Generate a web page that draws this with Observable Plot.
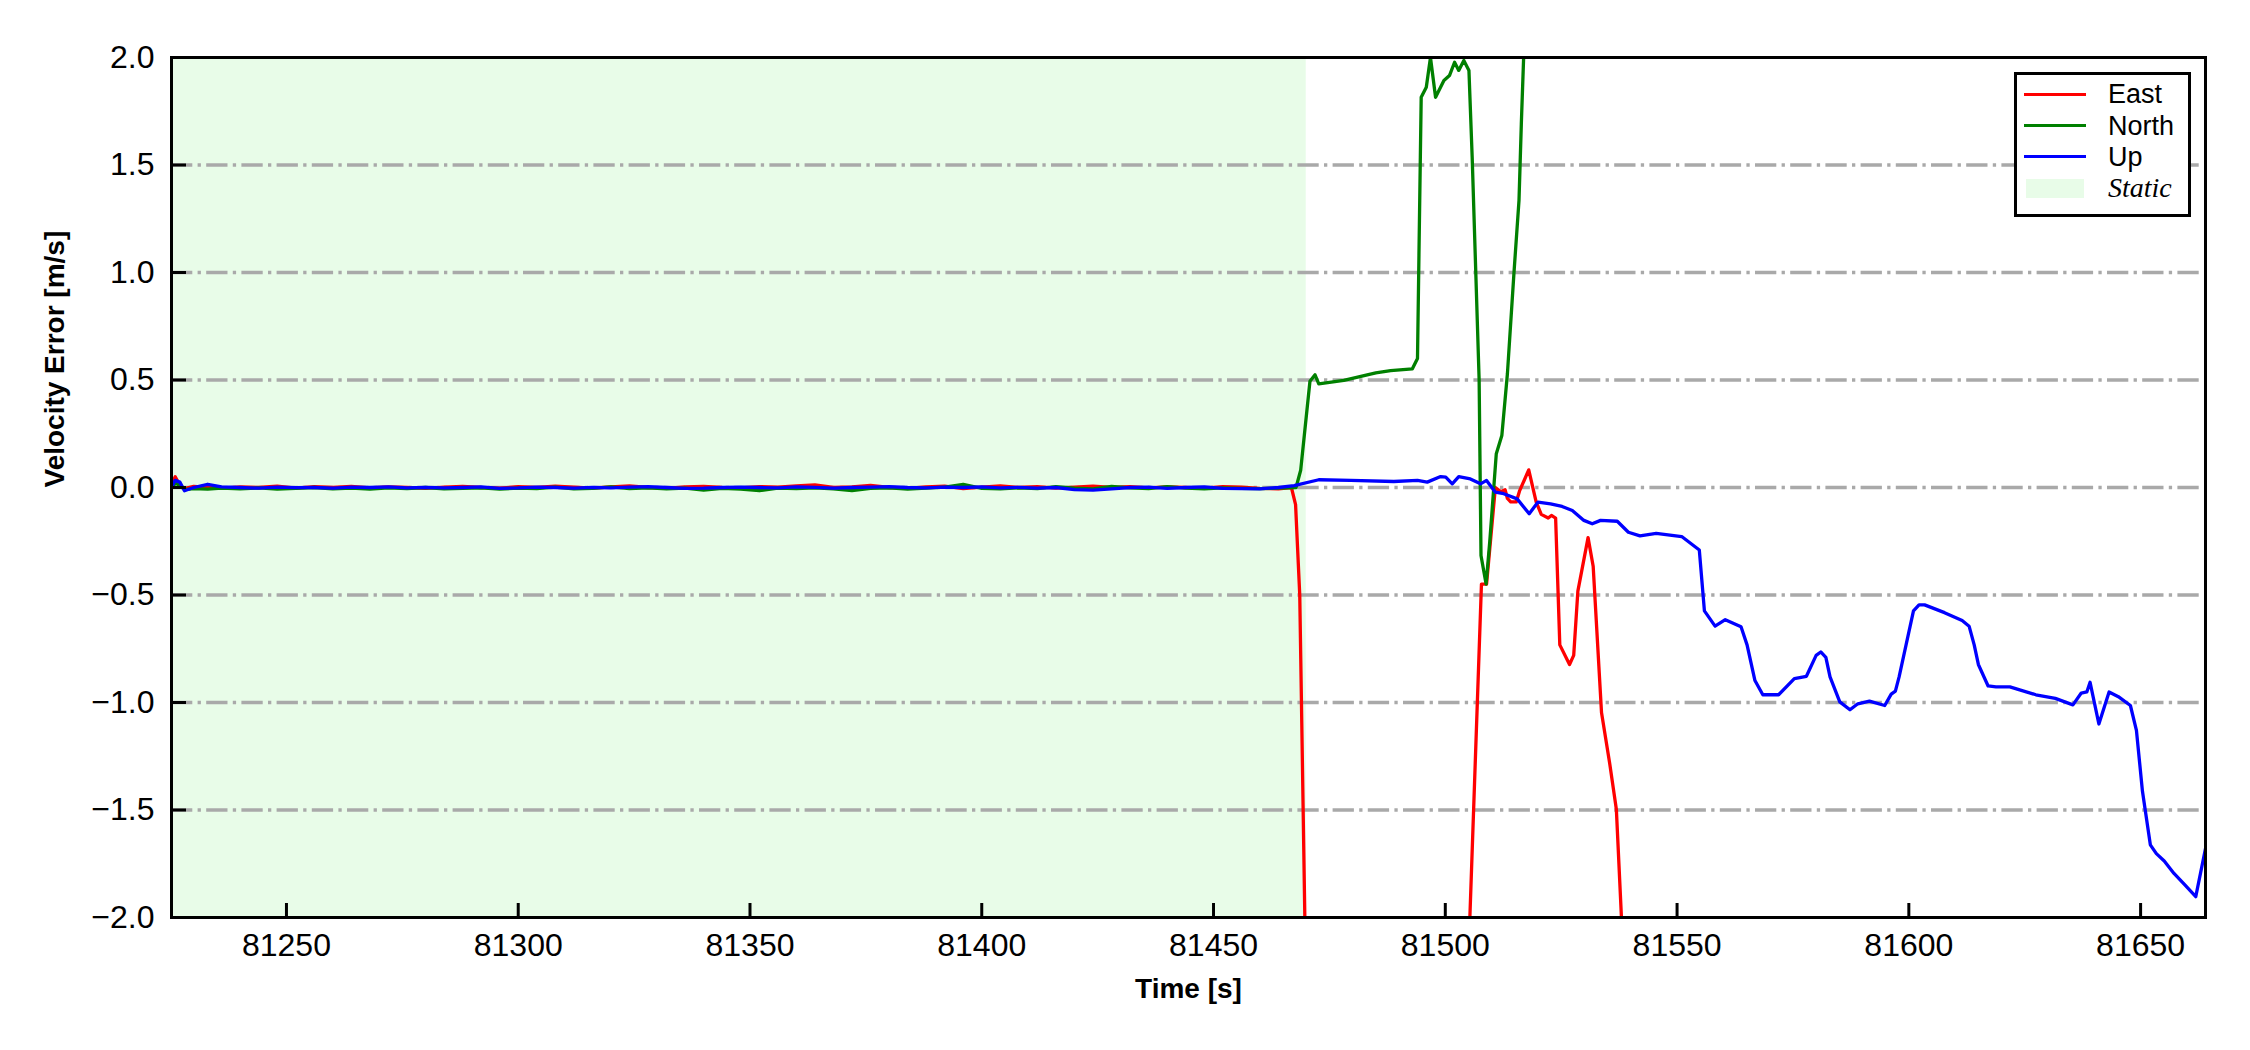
<!DOCTYPE html>
<html>
<head>
<meta charset="utf-8">
<script src="https://cdn.jsdelivr.net/npm/d3@7"></script>
<script src="https://cdn.jsdelivr.net/npm/@observablehq/plot@0.6"></script>
<style>
  html, body { margin: 0; padding: 0; background: #fff; }
  #wrap { position: relative; width: 2250px; height: 1050px; font-family: "Liberation Sans", Arial, sans-serif; }
  #wrap svg { position: absolute; left: 0; top: 0; }
  #legend { position: absolute; left: 2014px; top: 72px; width: 177px; height: 145px; border: 3px solid #000; box-sizing: border-box; background: #fff; }
  .lrow { position: absolute; left: 0; height: 30px; width: 170px; }
  .lsym { position: absolute; left: 7px; width: 62px; height: 3.5px; top: 13.25px; }
  .lpatch { position: absolute; left: 9px; width: 58px; height: 19px; top: 5.5px; }
  .ltxt { position: absolute; left: 91px; top: 0; height: 30px; line-height: 30px; font-size: 27px; color: #000; white-space: nowrap; }
  .ltxt.it { font-family: "Liberation Serif", "Times New Roman", serif; font-style: italic; font-size: 28px; }
</style>
</head>
<body>
<div id="wrap"></div>
<script>
// ---------- axes / layout values ----------
const xDomain = [81225.2, 81664];
const yDomain = [-2, 2];
const xTicks = [81250, 81300, 81350, 81400, 81450, 81500, 81550, 81600, 81650];
const yTicks = [-2, -1.5, -1, -0.5, 0, 0.5, 1, 1.5, 2];
const gridValues = [-1.5, -1, -0.5, 0, 0.5, 1, 1.5];
const staticWindow = [81225.2, 81470];

const seriesNames = ["East", "North", "Up"];
const seriesColors = ["#ff0000", "#008000", "#0000ff"];
const staticLabel = "Static";
const staticColor = "#e8fce8";

// ---------- static period (shared timestamps) ----------
const staticTime = [81225, 81226, 81227, 81228, 81230, 81233, 81236, 81240, 81244, 81248,
  81252, 81256, 81260, 81264, 81268, 81272, 81276, 81280, 81284, 81288,
  81292, 81296, 81300, 81304, 81308, 81312, 81316, 81320, 81324, 81328,
  81332, 81336, 81340, 81344, 81348, 81352, 81356, 81360, 81364, 81368,
  81372, 81376, 81380, 81384, 81388, 81392, 81396, 81400, 81404, 81408,
  81412, 81416, 81420, 81424, 81428, 81432, 81436, 81440, 81444, 81448,
  81452, 81456, 81460, 81464];

const staticEast = [0.005, 0.05, 0.01, -0.005, 0.005, 0.0, -0.004, 0.003, 0.0, 0.006,
  -0.003, 0.004, 0.0, 0.005, -0.002, 0.003, 0.0, -0.004, 0.002, 0.005,
  0.0, -0.003, 0.004, 0.0, 0.006, 0.002, -0.003, 0.003, 0.007, 0.0,
  -0.004, 0.003, 0.005, 0.0, -0.002, 0.004, 0.002, 0.008, 0.012, 0.0,
  0.003, 0.010, 0.0, -0.004, 0.003, 0.006, -0.005, 0.002, 0.007, 0.0,
  0.004, -0.003, 0.002, 0.006, 0.0, 0.004, -0.002, 0.003, 0.0, -0.003,
  0.004, 0.002, -0.004, -0.006];

const staticNorth = [-0.01, 0.02, 0.01, -0.01, -0.005, -0.008, -0.003, -0.006, -0.002, -0.007,
  -0.004, 0.0, -0.006, -0.003, -0.008, -0.002, -0.005, 0.0, -0.006, -0.004,
  -0.002, -0.007, -0.003, -0.005, 0.002, -0.006, -0.004, 0.003, -0.005, -0.002,
  -0.006, -0.003, -0.012, -0.004, -0.008, -0.015, -0.003, -0.005, -0.002, -0.006,
  -0.014, -0.004, -0.002, -0.007, -0.003, 0.002, 0.014, -0.004, -0.006, -0.002,
  -0.005, 0.004, -0.003, -0.006, 0.005, -0.002, -0.005, 0.004, -0.003, -0.006,
  -0.002, -0.004, -0.005, -0.003];

const staticUp = [-0.006, 0.033, 0.025, -0.015, 0.0, 0.015, 0.003, 0.0, -0.003, 0.002,
  -0.001, 0.0, -0.003, 0.002, 0.0, 0.003, -0.002, 0.001, -0.002, 0.0,
  0.003, -0.004, -0.002, 0.002, 0.0, -0.003, 0.001, -0.002, 0.002, 0.004,
  0.0, -0.004, -0.003, 0.0, 0.002, 0.0, -0.002, 0.003, 0.001, -0.003,
  0.0, 0.002, 0.004, 0.0, -0.002, 0.002, 0.0, 0.003, -0.002, 0.001,
  -0.003, 0.0, -0.010, -0.012, -0.006, 0.0, 0.002, -0.004, 0.0, 0.003,
  -0.004, -0.005, -0.006, 0.0];

// ---------- motion period ----------
const moveTimeEast = [81466.8, 81467.7, 81468.6, 81469.7, 81470.5, 81488, 81505.0, 81505.3,
  81507.8, 81508.9, 81510.8, 81512.0, 81512.9, 81513.4, 81514.1, 81515.3, 81516.0,
  81518.0, 81519.6, 81520.7, 81522.2, 81522.9, 81523.8, 81524.7, 81526.8, 81527.7,
  81528.6, 81530.8, 81531.9, 81533.7, 81535.5, 81536.9, 81538.0, 81539.0, 81600, 81664];
const moveEast = [0.0, -0.08, -0.5, -2.0, -2.6, -3.0, -2.6, -2.0,
  -0.449, -0.449, 0.0, -0.02, -0.01, -0.051, -0.067, -0.067, -0.017,
  0.082, -0.067, -0.125, -0.142, -0.130, -0.142, -0.732, -0.823, -0.781,
  -0.482, -0.233, -0.366, -1.047, -1.288, -1.496, -2.0, -2.6, -3.0, -3.0];

const moveTimeNorth = [81467.8, 81468.8, 81470.8, 81471.9, 81472.7, 81478.1, 81485.0, 81488.2,
  81492.9, 81494.0, 81494.8, 81495.9, 81496.8, 81497.9, 81499.7, 81500.9, 81502.0,
  81502.9, 81504.0, 81505.1, 81505.8, 81507.3, 81507.7, 81508.8, 81509.6, 81511.0,
  81512.2, 81513.4, 81514.8, 81515.9, 81516.4, 81516.9, 81518.0, 81600, 81664];
const moveNorth = [0.0, 0.08, 0.494, 0.524, 0.482, 0.498, 0.533, 0.544,
  0.552, 0.60, 1.815, 1.862, 2.0, 1.815, 1.893, 1.916, 1.978,
  1.94, 1.986, 1.94, 1.536, 0.5, -0.316, -0.449, -0.25, 0.157,
  0.242, 0.529, 0.994, 1.335, 1.69, 2.0, 2.5, 3.0, 3.0];

const moveTimeUp = [81467.4, 81472.7, 81479.6, 81488.9, 81494.0, 81496.1, 81499.0, 81500.1,
  81501.5, 81502.9, 81505.4, 81507.6, 81508.9, 81510.8, 81512.6, 81515.5, 81518.1,
  81520.0, 81522.7, 81525.2, 81527.4, 81529.9, 81531.7, 81533.5, 81537.1, 81539.5,
  81542.0, 81545.5, 81551.0, 81554.8, 81555.9, 81558.2, 81560.4, 81563.8, 81565.1,
  81566.8, 81568.5, 81571.9, 81575.3, 81577.9, 81580.0, 81581.0, 81582.1, 81583.0,
  81585.1, 81587.3, 81589.0, 81591.5, 81594.8, 81596.2, 81597.1, 81597.9, 81601.0,
  81602.2, 81603.4, 81607.7, 81611.5, 81613.0, 81614.1, 81615.0, 81617.1, 81618.8,
  81621.8, 81627.4, 81631.6, 81635.4, 81637.2, 81638.4, 81639.1, 81641.0, 81643.2,
  81645.2, 81647.8, 81649.1, 81650.4, 81652.1, 81653.4, 81655.1, 81657.2, 81659.4,
  81661.9, 81664.0];
const moveUp = [0.009, 0.036, 0.033, 0.028, 0.033, 0.025, 0.051, 0.048,
  0.017, 0.051, 0.040, 0.017, 0.033, -0.022, -0.029, -0.053, -0.122,
  -0.068, -0.076, -0.088, -0.107, -0.153, -0.169, -0.153, -0.157, -0.208,
  -0.225, -0.213, -0.228, -0.291, -0.574, -0.645, -0.615, -0.648, -0.732,
  -0.898, -0.964, -0.964, -0.889, -0.878, -0.781, -0.765, -0.790, -0.881,
  -0.997, -1.034, -1.006, -0.994, -1.014, -0.961, -0.947, -0.881, -0.574,
  -0.546, -0.546, -0.582, -0.619, -0.645, -0.732, -0.823, -0.923, -0.927,
  -0.927, -0.964, -0.981, -1.011, -0.956, -0.951, -0.906, -1.100, -0.951,
  -0.973, -1.014, -1.130, -1.413, -1.662, -1.703, -1.737, -1.795, -1.845,
  -1.903, -1.679];

// ---------- build tables ----------
function series(ts1, vs1, ts2, vs2) {
  return ts1.map((t, i) => ({t, v: vs1[i]})).concat(ts2.map((t, i) => ({t, v: vs2[i]})));
}
const eastData = series(staticTime, staticEast, moveTimeEast, moveEast);
const northData = series(staticTime, staticNorth, moveTimeNorth, moveNorth);
const upData = series(staticTime, staticUp, moveTimeUp, moveUp);
const allSeries = [eastData, northData, upData];

const chart = Plot.plot({
  width: 2250,
  height: 1050,
  marginLeft: 171,
  marginRight: 45,
  marginTop: 57,
  marginBottom: 133,
  style: {fontFamily: "'Liberation Sans', Arial, sans-serif", fontSize: "32px", color: "#000", background: "transparent", overflow: "visible"},
  x: {domain: xDomain, label: null},
  y: {domain: yDomain, label: null},
  marks: [
    Plot.rect([staticWindow], {x1: d => d[0], x2: d => d[1], fill: staticColor}),
    Plot.ruleY(gridValues, {stroke: "#a9a9a9", strokeWidth: 3.3, strokeDasharray: "21.3,5.3,3.3,5.3"}),
    ...allSeries.map((data, i) => Plot.line(data, {x: "t", y: "v", stroke: seriesColors[i], strokeWidth: 3.3, clip: true, strokeLinejoin: "round"})),
    Plot.tickX(xTicks, {x: d => d, insetTop: 846, stroke: "#000", strokeWidth: 3}),
    Plot.tickY(yTicks, {y: d => d, insetRight: 2019, stroke: "#000", strokeWidth: 3}),
    Plot.axisX({ticks: xTicks, tickSize: 0, tickPadding: 16, tickFormat: d3.format("d"), fontSize: 32, label: null}),
    Plot.axisY({ticks: yTicks, tickSize: 0, tickPadding: 17, tickFormat: d3.format(".1f"), fontSize: 32, label: null}),
    Plot.frame({stroke: "#000", strokeWidth: 3}),
    Plot.text(["Time [s]"], {frameAnchor: "bottom", dy: 80, fontWeight: "bold", fontSize: 28, text: d => d}),
    Plot.text(["Velocity Error [m/s]"], {frameAnchor: "left", dx: -116, rotate: -90, fontWeight: "bold", fontSize: 28, text: d => d})
  ]
});

const wrap = document.getElementById("wrap");
wrap.appendChild(chart);

// ---------- legend (inside the axes, top right) ----------
const legend = document.createElement("div");
legend.id = "legend";
const rowTops = [4.3, 35.7, 66.7, 98.3];
seriesNames.forEach((name, i) => {
  const row = document.createElement("div");
  row.className = "lrow";
  row.style.top = rowTops[i] + "px";
  const sym = document.createElement("div");
  sym.className = "lsym";
  sym.style.background = seriesColors[i];
  const txt = document.createElement("div");
  txt.className = "ltxt";
  txt.textContent = name;
  row.appendChild(sym);
  row.appendChild(txt);
  legend.appendChild(row);
});
{
  const row = document.createElement("div");
  row.className = "lrow";
  row.style.top = rowTops[3] + "px";
  const patch = document.createElement("div");
  patch.className = "lpatch";
  patch.style.background = staticColor;
  const txt = document.createElement("div");
  txt.className = "ltxt it";
  txt.textContent = staticLabel;
  row.appendChild(patch);
  row.appendChild(txt);
  legend.appendChild(row);
}
wrap.appendChild(legend);
</script>
</body>
</html>
